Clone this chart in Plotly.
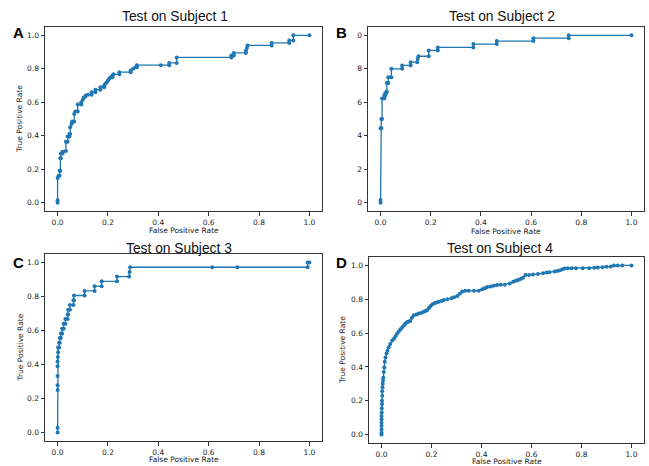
import plotly.graph_objects as go

W, H = 649, 466

# ---------------- data ----------------
fpr_1 = [0, 0, 0, 0.004, 0.008, 0.008, 0.011, 0.011, 0.013, 0.013, 0.02, 0.02, 0.033, 0.033, 0.04, 0.04,
         0.047, 0.047, 0.05, 0.05, 0.055, 0.058, 0.058, 0.066, 0.066, 0.07, 0.08, 0.08, 0.094, 0.094, 0.1,
         0.104, 0.11, 0.112, 0.12, 0.135, 0.135, 0.15, 0.15, 0.17, 0.17, 0.185, 0.185, 0.19, 0.195, 0.2,
         0.205, 0.21, 0.218, 0.218, 0.222, 0.245, 0.245, 0.29, 0.29, 0.30, 0.31, 0.315, 0.315, 0.41, 0.443,
         0.443, 0.473, 0.473, 0.69, 0.69, 0.70, 0.70, 0.748, 0.748, 0.752, 0.754, 0.85, 0.85, 0.92, 0.92,
         0.936, 0.936, 1.0]
tpr_1 = [0, 0.014, 0.148, 0.16, 0.16, 0.19, 0.19, 0.265, 0.265, 0.294, 0.294, 0.304, 0.308, 0.364, 0.364, 0.396,
         0.396, 0.41, 0.41, 0.45, 0.47, 0.48, 0.485, 0.485, 0.53, 0.545, 0.545, 0.587, 0.587, 0.60, 0.615,
         0.627, 0.635, 0.64, 0.645, 0.645, 0.66, 0.66, 0.675, 0.675, 0.69, 0.69, 0.70, 0.71, 0.72, 0.73,
         0.74, 0.75, 0.75, 0.76, 0.767, 0.767, 0.78, 0.78, 0.79, 0.80, 0.81, 0.81, 0.822, 0.822, 0.822,
         0.835, 0.835, 0.868, 0.868, 0.88, 0.88, 0.895, 0.895, 0.91, 0.925, 0.94, 0.94, 0.955, 0.955, 0.97,
         0.97, 1.0, 1.0]

fpr_2 = [0, 0, 0, 0.003, 0.003, 0.006, 0.006, 0.015, 0.015, 0.019, 0.019, 0.023, 0.025, 0.025, 0.031, 0.031,
         0.043, 0.043, 0.086, 0.086, 0.12, 0.12, 0.146, 0.148, 0.151, 0.192, 0.192, 0.228, 0.228, 0.37, 0.37,
         0.463, 0.463, 0.609, 0.609, 0.75, 0.75, 1.0]
tpr_2 = [0, 0.016, 0.445, 0.445, 0.5, 0.5, 0.623, 0.623, 0.64, 0.64, 0.655, 0.655, 0.665, 0.715, 0.715, 0.75,
         0.75, 0.80, 0.80, 0.82, 0.82, 0.84, 0.84, 0.858, 0.875, 0.875, 0.91, 0.91, 0.928, 0.928, 0.948,
         0.948, 0.966, 0.966, 0.983, 0.983, 1.0, 1.0]

fpr_3 = [0, 0, 0, 0, 0, 0, 0, 0.001, 0.002, 0.002, 0.006, 0.006, 0.009, 0.009, 0.013, 0.013, 0.018, 0.018,
         0.024, 0.024, 0.031, 0.031, 0.04, 0.04, 0.042, 0.042, 0.049, 0.049, 0.063, 0.063, 0.065, 0.065,
         0.107, 0.107, 0.147, 0.147, 0.175, 0.175, 0.236, 0.236, 0.284, 0.286, 0.288, 0.614, 0.714, 0.993,
         0.993, 1.0]
tpr_3 = [0, 0.028, 0.25, 0.278, 0.333, 0.389, 0.417, 0.444, 0.472, 0.5, 0.5, 0.528, 0.528, 0.556, 0.556, 0.583,
         0.583, 0.611, 0.611, 0.639, 0.639, 0.667, 0.667, 0.694, 0.694, 0.722, 0.722, 0.75, 0.75, 0.778,
         0.778, 0.806, 0.806, 0.833, 0.833, 0.861, 0.861, 0.889, 0.889, 0.917, 0.917, 0.944, 0.972, 0.972,
         0.972, 0.972, 1.0, 1.0]

fpr_4 = [0, 0, 0, 0, 0, 0, 0, 0.001, 0.001, 0.002, 0.002, 0.003, 0.003, 0.004, 0.005, 0.006, 0.007, 0.009,
         0.011, 0.013, 0.016, 0.02, 0.024, 0.029, 0.035, 0.043, 0.05, 0.056, 0.062, 0.069, 0.076, 0.083, 0.09,
         0.096, 0.103, 0.109, 0.115, 0.122, 0.129, 0.14, 0.149, 0.16, 0.169, 0.176, 0.183, 0.19, 0.196, 0.204,
         0.212, 0.22, 0.229, 0.24, 0.249, 0.263, 0.28, 0.29, 0.303, 0.313, 0.323, 0.335, 0.349, 0.37, 0.389,
         0.403, 0.413, 0.423, 0.437, 0.449, 0.462, 0.476, 0.493, 0.513, 0.527, 0.537, 0.546, 0.556, 0.566,
         0.576, 0.59, 0.606, 0.626, 0.646, 0.66, 0.672, 0.692, 0.702, 0.712, 0.722, 0.732, 0.745, 0.76, 0.778,
         0.805, 0.831, 0.851, 0.865, 0.884, 0.9, 0.917, 0.93, 0.945, 0.963, 1.0]
tpr_4 = [0, 0.01, 0.03, 0.05, 0.07, 0.09, 0.11, 0.13, 0.156, 0.18, 0.2, 0.23, 0.256, 0.28, 0.30, 0.32, 0.336,
         0.37, 0.396, 0.43, 0.456, 0.48, 0.496, 0.516, 0.536, 0.556, 0.566, 0.581, 0.596, 0.61, 0.622, 0.634,
         0.646, 0.656, 0.666, 0.668, 0.672, 0.69, 0.706, 0.71, 0.716, 0.72, 0.726, 0.73, 0.736, 0.748, 0.76,
         0.77, 0.776, 0.781, 0.786, 0.79, 0.796, 0.80, 0.806, 0.812, 0.82, 0.832, 0.846, 0.85, 0.85, 0.85,
         0.85, 0.86, 0.865, 0.872, 0.876, 0.88, 0.884, 0.886, 0.886, 0.894, 0.904, 0.91, 0.914, 0.92, 0.928,
         0.944, 0.944, 0.946, 0.95, 0.954, 0.958, 0.96, 0.964, 0.967, 0.97, 0.976, 0.982, 0.984, 0.984, 0.984,
         0.984, 0.984, 0.986, 0.988, 0.99, 0.992, 0.994, 1.0, 1.0, 1.0, 1.0]

titles = ["Test on Subject 1", "Test on Subject 2", "Test on Subject 3", "Test on Subject 4"]
panel_letters = ["A", "B", "C", "D"]
tick_vals = [0, 0.2, 0.4, 0.6, 0.8, 1.0]
tick_text = ["0.0", "0.2", "0.4", "0.6", "0.8", "1.0"]
tick_text_b = ["0", "2", "4", "6", "8", "0"]
x_label = "False Positive Rate"
y_label = "True Positive Rate"

# ---------------- layout geometry (pixels) ----------------
# (left, right, top, bottom) of each axes box
boxes = [(45, 322, 27, 211), (368, 644, 27, 211), (45, 322, 254, 441), (369, 644, 257, 443)]
title_pos = [(175, 17), (502, 17), (179, 248), (500, 248)]
letter_pos = [(18, 32), (341, 32), (18, 262), (341, 262)]
xlabel_y = [230, 231, 459, 461]
ylabel_x = [20, None, 20, 342]

def px(x):
    return x / W

def py(y):
    return 1 - y / H

BLUE = "#1f77b4"
DARK = "#333333"
TICKFONT = dict(family="DejaVu Sans", size=7.5, color="#222222")

fig = go.Figure()
series = [(fpr_1, tpr_1), (fpr_2, tpr_2), (fpr_3, tpr_3), (fpr_4, tpr_4)]
annotations = []
for i, ((fx, ty), (l, r, t, b)) in enumerate(zip(series, boxes)):
    n = "" if i == 0 else str(i + 1)
    fig.add_trace(go.Scatter(x=fx, y=ty, mode="lines+markers", xaxis="x" + n, yaxis="y" + n,
                             line=dict(color=BLUE, width=1.3),
                             marker=dict(color=BLUE, size=4), hoverinfo="skip", showlegend=False))
    common = dict(range=[-0.05, 1.05], tickvals=tick_vals, ticks="outside", ticklen=3.5, tickwidth=1,
                  tickcolor=DARK, showline=True, mirror=True, linecolor=DARK, linewidth=1,
                  showgrid=False, zeroline=False, tickfont=TICKFONT, fixedrange=True)
    fig.layout["xaxis" + n] = dict(common, domain=[px(l), px(r)], anchor="y" + n, ticktext=tick_text)
    fig.layout["yaxis" + n] = dict(common, domain=[py(b), py(t)], anchor="x" + n,
                                   ticktext=tick_text_b if i == 1 else tick_text)
    tx, tyy = title_pos[i]
    annotations.append(dict(text=titles[i], x=px(tx), y=py(tyy), xref="paper", yref="paper",
                            showarrow=False, xanchor="center", yanchor="middle",
                            font=dict(family="Liberation Sans", size=13.8, color="#111111")))
    lx, ly = letter_pos[i]
    annotations.append(dict(text="<b>" + panel_letters[i] + "</b>", x=px(lx), y=py(ly), xref="paper",
                            yref="paper", showarrow=False, xanchor="center", yanchor="middle",
                            font=dict(family="Liberation Sans", size=15, color="#000000")))
    annotations.append(dict(text=x_label, x=px((l + r) / 2), y=py(xlabel_y[i]), xref="paper", yref="paper",
                            showarrow=False, xanchor="center", yanchor="middle", font=TICKFONT))
    if ylabel_x[i] is not None:
        annotations.append(dict(text=y_label, x=px(ylabel_x[i]), y=py((t + b) / 2), xref="paper",
                                yref="paper", showarrow=False, xanchor="center", yanchor="middle",
                                textangle=-90, font=TICKFONT))

fig.update_layout(width=W, height=H, margin=dict(l=0, r=0, t=0, b=0), paper_bgcolor="white",
                  plot_bgcolor="white", showlegend=False, annotations=annotations)

fig.write_html("out.html", config={"displayModeBar": False, "staticPlot": True},
               post_script="document.body.style.margin='0';document.body.style.padding='0';")
